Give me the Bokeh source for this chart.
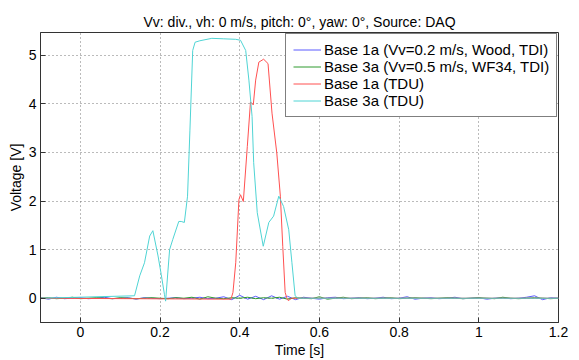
import numpy as np
from bokeh.plotting import figure
from bokeh.models import FixedTicker, Range1d, Legend, LegendItem
from bokeh.embed import file_html
from bokeh.resources import INLINE

# ---------------- data ----------------
title_text = "Vv: div., vh: 0 m/s, pitch: 0°, yaw: 0°, Source: DAQ"
x_ticks = [0, 0.2, 0.4, 0.6, 0.8, 1, 1.2]
x_tick_labels = ["0", "0.2", "0.4", "0.6", "0.8", "1", "1.2"]
y_ticks = [0, 1, 2, 3, 4, 5]

series_names = ["Base 1a (Vv=0.2 m/s, Wood, TDI)",
                "Base 3a (Vv=0.5 m/s, WF34, TDI)",
                "Base 1a (TDU)",
                "Base 3a (TDU)"]

# TDI traces (noise around zero), sampled every 0.02 s
tdi_t = np.round(np.arange(-0.1, 1.2001, 0.02), 2)
blue_v = [0.01, -0.02, 0.02, -0.01, 0.0,
          0.01, -0.01, 0.0, 0.02, -0.01,
          0.0, 0.01, -0.02, 0.01, 0.0,
          -0.01, 0.0, 0.01, -0.01, 0.0,
          0.02, -0.01, 0.0, 0.03, -0.03,
          0.06, -0.02, 0.04, -0.03, 0.05,
          -0.02, 0.04, -0.03, 0.02, 0.0,
          -0.02, 0.01, 0.02, -0.01, 0.0,
          0.01, -0.01, 0.0, 0.02, -0.01,
          0.0, 0.03, -0.02, 0.0, 0.01,
          -0.01, 0.0, 0.02, -0.01, 0.0,
          0.01, -0.02, 0.0, 0.01, -0.01,
          0.0, 0.02, 0.05, -0.03, 0.01,
          0.0]
green_v = [0.0, 0.01, -0.01, 0.0, 0.02,
           -0.01, 0.0, 0.01, 0.0, -0.01,
           0.01, 0.0, -0.01, 0.0, 0.01,
           0.0, -0.01, 0.01, 0.0, 0.02,
           -0.02, 0.03, 0.0, -0.01, 0.01,
           0.0, 0.02, -0.01, 0.01, 0.0,
           0.02, -0.02, 0.01, 0.0, -0.01,
           0.03, -0.02, 0.0, 0.02, -0.01,
           0.0, 0.01, -0.01, 0.0, 0.01,
           -0.01, 0.0, 0.01, 0.0, -0.01,
           0.0, 0.01, 0.0, -0.01, 0.0,
           0.01, 0.0, -0.01, 0.02, 0.0,
           -0.01, 0.0, 0.01, 0.0, -0.01,
           0.0]

# Base 1a (TDU)
red_t = [-0.1, 0.378, 0.383, 0.390, 0.398, 0.402, 0.409, 0.419, 0.427, 0.434,
         0.440, 0.448, 0.460, 0.471, 0.481, 0.493, 0.502, 0.508, 0.514, 0.518,
         0.522, 0.530, 1.2]
red_v = [0.0, -0.02, 0.12, 0.73, 2.03, 2.13, 1.99, 3.12, 4.04, 3.98,
         4.49, 4.86, 4.92, 4.83, 3.81, 2.99, 2.10, 1.07, 0.12, 0.01,
         -0.05, 0.0, 0.0]

# Base 3a (TDU)
cyan_t = [-0.1, 0.136, 0.149, 0.161, 0.174, 0.182, 0.195, 0.203, 0.211, 0.214,
          0.224, 0.232, 0.247, 0.253, 0.261, 0.269, 0.275, 0.282, 0.288, 0.30,
          0.33, 0.36, 0.39, 0.402, 0.415, 0.423, 0.431, 0.435, 0.444, 0.459,
          0.473, 0.485, 0.498, 0.510, 0.523, 0.531, 0.539, 0.546, 1.2]
cyan_v = [0.0, 0.05, 0.46, 0.73, 1.28, 1.39, 0.87, 0.49, 0.08, -0.06,
          1.0, 1.21, 1.58, 1.58, 1.56, 2.10, 3.46, 5.10, 5.27, 5.30,
          5.35, 5.34, 5.33, 5.31, 5.10, 4.49, 3.74, 2.79, 1.76, 1.07,
          1.56, 1.69, 2.10, 1.89, 1.41, 0.73, 0.05, 0.0, 0.0]

colors = ["#5a5aff", "#2f9a2f", "#ff5050", "#4fd4d4"]

# ---------------- figure ----------------
FONT = "Liberation Sans"
p = figure(width=579, height=360, output_backend="svg", toolbar_location=None,
           x_range=Range1d(-0.1, 1.2), y_range=Range1d(-0.5, 5.47),
           min_border_left=40, min_border_right=21, min_border_top=32,
           min_border_bottom=37)

p.title.text = title_text
p.title.align = "center"
p.title.text_font = FONT
p.title.text_font_size = "14px"
p.title.text_font_style = "normal"
p.title.text_color = "#000000"
p.title.standoff = 6

p.background_fill_color = "white"
p.border_fill_color = "white"
p.outline_line_color = "#333333"
p.outline_line_width = 1

renderers = []
r = p.line(tdi_t, blue_v, line_color=colors[0], line_width=1)
renderers.append(r)
r = p.line(tdi_t, green_v, line_color=colors[1], line_width=1)
renderers.append(r)
r = p.line(red_t, red_v, line_color=colors[2], line_width=1)
renderers.append(r)
r = p.line(cyan_t, cyan_v, line_color=colors[3], line_width=1)
renderers.append(r)

# axes
p.xaxis.ticker = FixedTicker(ticks=x_ticks)
p.xaxis.major_label_overrides = {t: l for t, l in zip(x_ticks, x_tick_labels)}
p.yaxis.ticker = FixedTicker(ticks=y_ticks)
for ax in (p.xaxis[0], p.yaxis[0]):
    ax.axis_line_color = "#333333"
    ax.major_tick_line_color = "#333333"
    ax.major_tick_in = 5
    ax.major_tick_out = 0
    ax.minor_tick_line_color = None
    ax.major_label_text_font = FONT
    ax.major_label_text_font_size = "14px"
    ax.major_label_text_color = "#000000"
    ax.axis_label_text_font = FONT
    ax.axis_label_text_font_size = "14px"
    ax.axis_label_text_font_style = "normal"
    ax.axis_label_text_color = "#000000"
    ax.major_label_standoff = 4
    ax.axis_label_standoff = 2

p.xaxis.axis_label = "Time [s]"
p.yaxis.axis_label = "Voltage [V]"

# grid
for g in (p.xgrid[0], p.ygrid[0]):
    g.grid_line_color = "#777777"
    g.grid_line_dash = "1 3"
    g.grid_line_width = 1

# legend
legend = Legend(items=[LegendItem(label=n, renderers=[rr]) for n, rr in zip(series_names, renderers)],
                location=(245, 205))
legend.label_text_font = FONT
legend.label_text_font_size = "15px"
legend.label_text_color = "#000000"
legend.label_height = 17
legend.glyph_height = 17
legend.glyph_width = 28
legend.label_standoff = 3
legend.spacing = 0
legend.padding = 7
legend.margin = 0
legend.border_line_color = "#000000"
legend.border_line_width = 1
legend.background_fill_color = "white"
legend.background_fill_alpha = 1.0
p.add_layout(legend, "center")

open("out.html", "w").write(file_html(p, INLINE))
